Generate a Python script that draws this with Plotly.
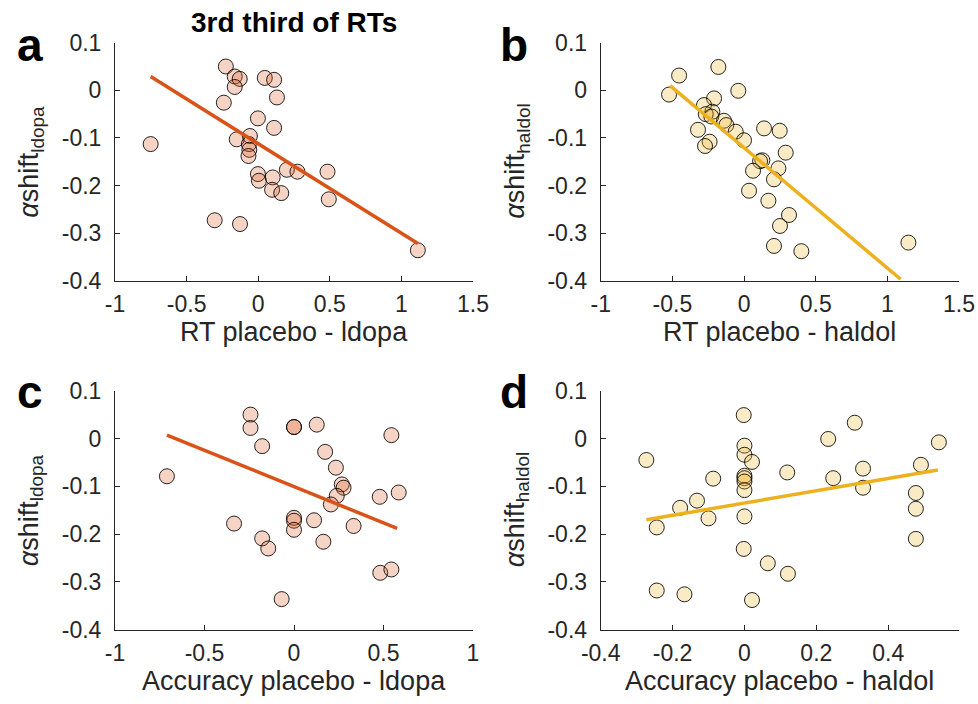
import plotly.graph_objects as go

W, H = 978, 704

# ---------------- data ----------------
a_x = [-0.751, -0.226, -0.164, -0.129, -0.164, 0.046, 0.111, 0.131, -0.240, -0.002,
       0.111, -0.150, -0.058, -0.065, -0.062, -0.068, 0.200, 0.274, 0.484, -0.002,
       0.005, 0.101, 0.097, 0.161, 0.493, -0.304, -0.127, 1.115]
a_y = [-0.113, 0.050, 0.029, 0.024, 0.007, 0.026, 0.022, -0.015, -0.026, -0.059,
       -0.079, -0.103, -0.096, -0.113, -0.125, -0.138, -0.167, -0.171, -0.171, -0.176,
       -0.190, -0.183, -0.209, -0.216, -0.229, -0.273, -0.281, -0.336]
a_line_x = [-0.751, 1.115]
a_line_y = [0.029, -0.322]

b_x = [-0.523, -0.453, -0.179, -0.040, -0.209, -0.279, -0.221, -0.267, -0.228, -0.140,
       -0.123, -0.321, -0.058, 0.000, -0.240, -0.272, 0.140, 0.249, 0.291, 0.128,
       0.112, 0.063, 0.240, 0.209, 0.035, 0.170, 0.314, 0.251, 0.209, 0.400, 1.147]
b_y = [-0.009, 0.031, 0.049, -0.001, -0.017, -0.031, -0.045, -0.050, -0.055, -0.064,
       -0.073, -0.083, -0.087, -0.105, -0.108, -0.117, -0.080, -0.085, -0.131, -0.147,
       -0.149, -0.169, -0.164, -0.187, -0.211, -0.232, -0.262, -0.285, -0.327, -0.338, -0.320]
b_line_x = [-0.516, 1.093]
b_line_y = [0.010, -0.397]

c_x = [-0.710, -0.243, -0.243, -0.178, 0.000, 0.000, 0.127, 0.174, 0.234, 0.267,
       0.277, 0.239, 0.206, 0.544, 0.585, 0.479, -0.335, 0.000, 0.000, 0.000,
       0.112, 0.333, -0.178, -0.144, 0.164, 0.482, 0.544, -0.069]
c_y = [-0.079, 0.050, 0.022, -0.016, 0.024, 0.024, 0.029, -0.028, -0.061, -0.096,
       -0.103, -0.120, -0.138, 0.007, -0.113, -0.122, -0.178, -0.166, -0.172, -0.191,
       -0.171, -0.183, -0.209, -0.230, -0.216, -0.281, -0.274, -0.336]
c_line_x = [-0.710, 0.576]
c_line_y = [0.007, -0.188]

d_x = [-0.273, -0.244, -0.244, -0.179, -0.167, -0.132, -0.100, -0.087, -0.002, 0.000,
       0.000, 0.021, 0.000, 0.000, 0.000, 0.000, 0.000, -0.002, 0.065, 0.021,
       0.119, 0.121, 0.233, 0.247, 0.307, 0.330, 0.330, 0.491, 0.477, 0.477, 0.477, 0.541]
d_y = [-0.045, -0.186, -0.318, -0.145, -0.326, -0.130, -0.167, -0.084, 0.049, -0.015,
       -0.034, -0.049, -0.078, -0.083, -0.090, -0.108, -0.163, -0.231, -0.261, -0.338,
       -0.071, -0.283, -0.001, -0.083, 0.033, -0.063, -0.103, -0.055, -0.114, -0.147, -0.210, -0.008]
d_line_x = [-0.273, 0.538]
d_line_y = [-0.170, -0.066]

y_ticks = [-0.4, -0.3, -0.2, -0.1, 0, 0.1]
y_ticktext = ["-0.4", "-0.3", "-0.2", "-0.1", "0", "0.1"]
ab_xticks = [-1, -0.5, 0, 0.5, 1, 1.5]
ab_xticktext = ["-1", "-0.5", "0", "0.5", "1", "1.5"]
c_xticks = [-1, -0.5, 0, 0.5, 1]
c_xticktext = ["-1", "-0.5", "0", "0.5", "1"]
d_xticks = [-0.4, -0.2, 0, 0.2, 0.4]
d_xticktext = ["-0.4", "-0.2", "0", "0.2", "0.4"]

x_titles = ["RT placebo - ldopa", "RT placebo - haldol",
            "Accuracy placebo - ldopa", "Accuracy placebo - haldol"]
y_titles = ["<i>α</i>shift<sub>ldopa</sub>", "<i>α</i>shift<sub>haldol</sub>",
            "<i>α</i>shift<sub>ldopa</sub>", "<i>α</i>shift<sub>haldol</sub>"]
panel_letters = ["a", "b", "c", "d"]
title_text = "3rd third of RTs"

# ---------------- styling ----------------
RED = "rgb(217,83,25)"
RED_FILL = "rgba(217,83,25,0.25)"
YEL = "rgb(237,177,32)"
YEL_FILL = "rgba(237,177,32,0.25)"
AX = "#262626"
FONT = "Liberation Sans, Arial, Helvetica, sans-serif"


def fx(p):
    return p / W


def fy(p):
    return 1 - p / H


panels = [
    dict(x=a_x, y=a_y, lx=a_line_x, ly=a_line_y, c=RED, f=RED_FILL,
         xd=(115, 473), yd=(42.7, 280.7), xr=[-1, 1.5], xt=ab_xticks, xtt=ab_xticktext),
    dict(x=b_x, y=b_y, lx=b_line_x, ly=b_line_y, c=YEL, f=YEL_FILL,
         xd=(600.7, 959), yd=(42.7, 280.7), xr=[-1, 1.5], xt=ab_xticks, xtt=ab_xticktext),
    dict(x=c_x, y=c_y, lx=c_line_x, ly=c_line_y, c=RED, f=RED_FILL,
         xd=(115, 473), yd=(390.7, 629.7), xr=[-1, 1], xt=c_xticks, xtt=c_xticktext),
    dict(x=d_x, y=d_y, lx=d_line_x, ly=d_line_y, c=YEL, f=YEL_FILL,
         xd=(600.7, 959), yd=(390.7, 629.7), xr=[-0.4, 0.597], xt=d_xticks, xtt=d_xticktext),
]

fig = go.Figure()
layout = dict(
    width=W, height=H, margin=dict(l=0, r=0, t=0, b=0, autoexpand=False),
    paper_bgcolor="white", plot_bgcolor="white", showlegend=False,
    font=dict(family=FONT, color=AX),
)
annotations = []

for i, p in enumerate(panels):
    n = "" if i == 0 else str(i + 1)
    xa, ya = "x" + n, "y" + n
    fig.add_trace(go.Scatter(
        x=p["x"], y=p["y"], mode="markers", xaxis=xa, yaxis=ya,
        marker=dict(size=15, color=p["f"], line=dict(color="rgba(0,0,0,0.85)", width=1)),
        cliponaxis=False))
    fig.add_trace(go.Scatter(
        x=p["lx"], y=p["ly"], mode="lines", xaxis=xa, yaxis=ya,
        line=dict(color=p["c"], width=3.5), cliponaxis=False))
    common = dict(showgrid=False, zeroline=False, showline=True, linecolor=AX,
                  linewidth=1, ticks="inside", ticklen=5, tickcolor=AX, tickwidth=1,
                  tickfont=dict(family=FONT, size=23, color=AX), mirror=False,
                  fixedrange=True, automargin=False)
    layout["xaxis" + n] = dict(
        common, domain=[fx(p["xd"][0]), fx(p["xd"][1])], range=p["xr"],
        tickvals=p["xt"], ticktext=p["xtt"], anchor=ya, ticklabelstandoff=3)
    layout["yaxis" + n] = dict(
        common, domain=[fy(p["yd"][1]), fy(p["yd"][0])], range=[-0.4, 0.1],
        tickvals=y_ticks, ticktext=y_ticktext, anchor=xa, ticklabelstandoff=8)
    # x title
    xc = (p["xd"][0] + p["xd"][1]) / 2
    annotations.append(dict(
        text=x_titles[i], xref="paper", yref="paper",
        x=fx(xc), y=fy(p["yd"][1] + 51),
        xanchor="center", yanchor="middle", showarrow=False,
        font=dict(family=FONT, size=27, color=AX)))
    # y title
    ycx = 31 if i % 2 == 0 else 517
    annotations.append(dict(
        text=y_titles[i], xref="paper", yref="paper",
        x=fx(ycx), y=fy((p["yd"][0] + p["yd"][1]) / 2),
        xanchor="center", yanchor="middle", textangle=-90, showarrow=False,
        font=dict(family=FONT, size=27, color=AX)))
    # panel letter
    lx = 30 if i % 2 == 0 else 514
    ly = 45 if i < 2 else 392
    annotations.append(dict(
        text="<b>%s</b>" % panel_letters[i], xref="paper", yref="paper",
        x=fx(lx), y=fy(ly), xanchor="center", yanchor="middle", showarrow=False,
        font=dict(family=FONT, size=46, color="black")))

annotations.append(dict(
    text="<b>%s</b>" % title_text, xref="paper", yref="paper",
    x=fx(294), y=fy(22), xanchor="center", yanchor="middle", showarrow=False,
    font=dict(family=FONT, size=28, color="black")))

layout["annotations"] = annotations
fig.update_layout(**layout)
fig.write_html("out.html")
